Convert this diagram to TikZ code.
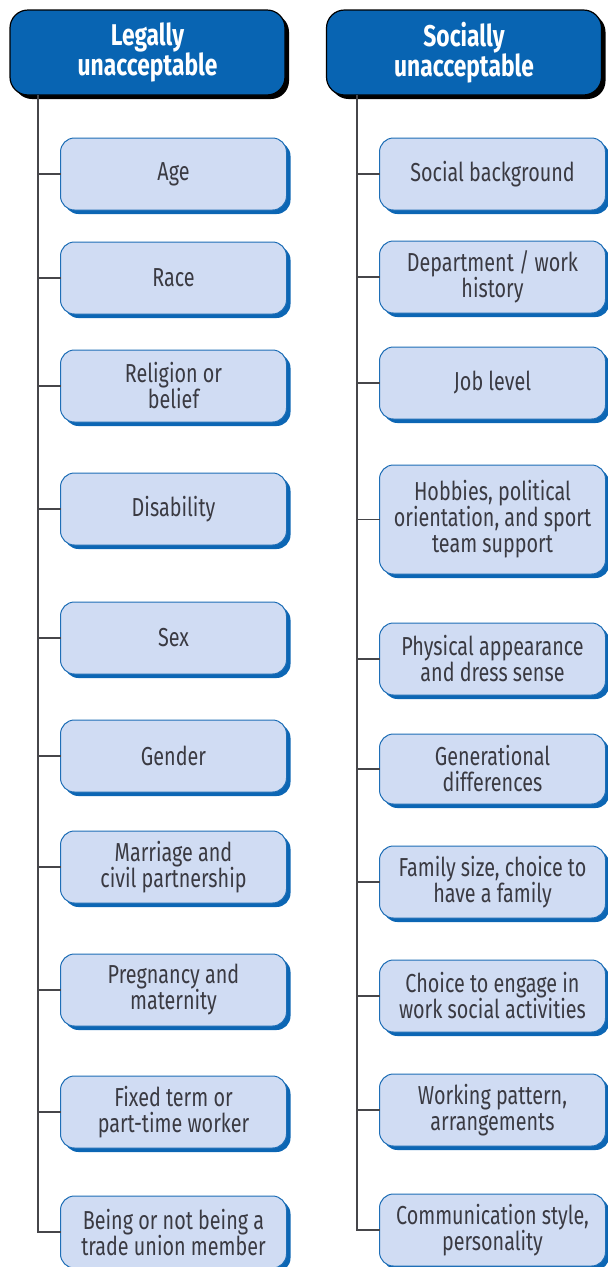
\documentclass[tikz,border=0pt]{standalone}
\usepackage{fontspec}
\setmainfont[FakeStretch=0.76]{Fira Sans}
\usetikzlibrary{positioning,shadows}

\definecolor{headblue}{RGB}{8,100,178}
\definecolor{itemfill}{RGB}{208,220,243}
\definecolor{itemline}{RGB}{30,110,182}
\definecolor{shadeblue}{RGB}{12,102,180}
\definecolor{textgray}{RGB}{58,58,66}
\definecolor{treegray}{RGB}{70,70,74}

\begin{document}
\begin{tikzpicture}[
    x=1pt, y=-1pt,
    header/.style={rectangle, draw=black, line width=1.2pt, fill=headblue, text=white, rounded corners=18pt,
        minimum width=275pt, minimum height=85pt, align=center, outer sep=0pt,
        font=\fontsize{30}{29}\selectfont\bfseries,
        drop shadow={shadow xshift=4pt, shadow yshift=-4pt, fill=black, opacity=1}},
    item/.style={rectangle, draw=itemline, line width=1pt, fill=itemfill, text=textgray, rounded corners=14pt,
        minimum width=226pt, minimum height=72pt, align=center, inner sep=2pt, outer sep=0pt,
        font=\fontsize{26}{26}\selectfont,
        drop shadow={shadow xshift=4pt, shadow yshift=-4pt, fill=shadeblue, opacity=1}},
    tree/.style={draw=treegray, line width=1.6pt}
]
\useasboundingbox (0,0) rectangle (608,1267);

% Column headers
\node[header] (legal) at (147.5,52.5) {Legally\\unacceptable};
\node[header] (social) at (464,52.5) {Socially\\unacceptable};

% Legally unacceptable (left column)
\node[item] (age) at (173.5,174) {Age};
\node[item, below=32pt of age] (race) {Race};
\node[item, below=36pt of race] (religion) {Religion or\\belief};
\node[item, below=51pt of religion] (disability) {Disability};
\node[item, below=57pt of disability] (sex) {Sex};
\node[item, below=46pt of sex] (gender) {Gender};
\node[item, below=39pt of gender] (marriage) {Marriage and\\civil partnership};
\node[item, below=51pt of marriage] (pregnancy) {Pregnancy and\\maternity};
\node[item, below=50pt of pregnancy] (fixedterm) {Fixed term or\\part-time worker};
\node[item, below=48pt of fixedterm] (union) {Being or not being a\\trade union member};

% Socially unacceptable (right column)
\node[item] (background) at (492.5,174) {Social background};
\node[item, below=31pt of background] (department) {Department / work\\history};
\node[item, below=34pt of department] (joblevel) {Job level};
\node[item, below=46pt of joblevel, minimum height=109pt] (hobbies) {Hobbies, political\\orientation, and sport\\team support};
\node[item, below=49pt of hobbies] (appearance) {Physical appearance\\and dress sense};
\node[item, below=39pt of appearance, minimum height=70pt] (generation) {Generational\\differences};
\node[item, below=42pt of generation] (family) {Family size, choice to\\have a family};
\node[item, below=42pt of family] (activities) {Choice to engage in\\work social activities};
\node[item, below=42pt of activities] (pattern) {Working pattern,\\arrangements};
\node[item, below=48pt of pattern] (communication) {Communication style,\\personality};

% Tree connectors
\coordinate (lroot) at (38,95);
\coordinate (sroot) at (357,95);
\foreach \n in {age,race,religion,disability,sex,gender,marriage,pregnancy,fixedterm,union}
    \draw[tree] (lroot) |- (\n.west);
\foreach \n in {background,department,joblevel,hobbies,appearance,generation,family,activities,pattern,communication}
    \draw[tree] (sroot) |- (\n.west);

\end{tikzpicture}
\end{document}
